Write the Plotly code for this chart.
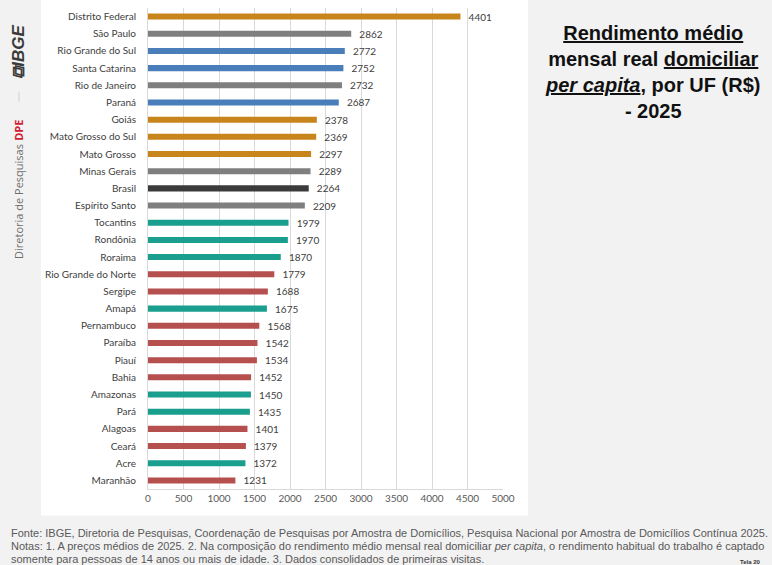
import plotly.graph_objects as go

# ---------------- data ----------------
ufs = ["Distrito Federal", "São Paulo", "Rio Grande do Sul", "Santa Catarina", "Rio de Janeiro",
       "Paraná", "Goiás", "Mato Grosso do Sul", "Mato Grosso", "Minas Gerais", "Brasil",
       "Espírito Santo", "Tocantins", "Rondônia", "Roraima", "Rio Grande do Norte", "Sergipe",
       "Amapá", "Pernambuco", "Paraíba", "Piauí", "Bahia", "Amazonas", "Pará", "Alagoas",
       "Ceará", "Acre", "Maranhão"]
values = [4401, 2862, 2772, 2752, 2732, 2687, 2378, 2369, 2297, 2289, 2264, 2209, 1979, 1970,
          1870, 1779, 1688, 1675, 1568, 1542, 1534, 1452, 1450, 1435, 1401, 1379, 1372, 1231]
regions = ["CO", "SE", "S", "S", "SE", "S", "CO", "CO", "CO", "SE", "BR", "SE", "N", "N",
           "N", "NE", "NE", "N", "NE", "NE", "NE", "NE", "N", "N", "NE", "NE", "N", "NE"]
x_ticks = [0, 500, 1000, 1500, 2000, 2500, 3000, 3500, 4000, 4500, 5000]

footer_lines = [
    "Fonte: IBGE, Diretoria de Pesquisas, Coordenação de Pesquisas por Amostra de Domicílios, "
    "Pesquisa Nacional por Amostra de Domicílios Contínua 2025.",
    "Notas: 1. A preços médios de 2025. 2. Na composição do rendimento médio mensal real domiciliar "
    "<i>per capita</i>, o rendimento habitual do trabalho é captado",
    "somente para pessoas de 14 anos ou mais de idade. 3. Dados consolidados de primeiras visitas.",
]

region_colors = {"CO": "#C8851C", "SE": "#7F7F7F", "S": "#4A7EBB", "BR": "#3B3B3B",
                 "N": "#1A9E8E", "NE": "#B5504F"}

# ---------------- layout geometry (pixels) ----------------
W, H = 772, 565
PL, PR, PT, PB = 148, 503, 8.4, 488.6


def px(xp):
    return (xp - PL) / (PR - PL)


def py(yp):
    return (PB - yp) / (PB - PT)


fig = go.Figure()
fig.add_trace(go.Bar(
    x=values, y=ufs, orientation="h",
    marker=dict(color=[region_colors[r] for r in regions], line=dict(width=0)),
    text=["\u00a0\u00a0" + str(v) for v in values], textposition="outside", constraintext="none",
    textfont=dict(family="Lato, Open Sans, sans-serif", size=10, color="#404040"),
    cliponaxis=False, hoverinfo="x+y",
))

fig.update_layout(
    width=W, height=H,
    margin=dict(l=PL, r=W - PR, t=PT, b=H - PB, pad=0),
    paper_bgcolor="#F2F2F2", plot_bgcolor="#FFFFFF",
    bargap=0.65, showlegend=False,
    xaxis=dict(range=[0, 5000], tickvals=x_ticks, showgrid=True, gridcolor="#D9D9D9",
               gridwidth=1, zeroline=False, showline=True, linecolor="#D9D9D9",
               tickfont=dict(family="Lato, Open Sans, sans-serif", size=10, color="#595959"),
               ticks="", fixedrange=True),
    yaxis=dict(categoryorder="array", categoryarray=ufs, autorange="reversed",
               showgrid=False, zeroline=False, showline=True, linecolor="#D9D9D9",
               ticks="", ticklabelstandoff=9,
               tickfont=dict(family="Lato, Open Sans, sans-serif", size=10, color="#404040"),
               fixedrange=True),
    font=dict(family="Liberation Sans, Arial, sans-serif"),
)

# white chart panel
fig.add_shape(type="rect", xref="paper", yref="paper", layer="below",
              x0=px(41), x1=px(528), y0=py(515), y1=py(0),
              fillcolor="#FFFFFF", line=dict(width=0))

# title
fig.add_annotation(
    xref="paper", yref="paper", x=px(652), y=py(20), xanchor="center", yanchor="top",
    text="<b><u>Rendimento médio</u><br>mensal real <u>domiciliar</u><br>"
         "<i><u>per capita</u></i>, por UF (R$)<br>- 2025</b>",
    showarrow=False, align="center",
    font=dict(family="Liberation Sans, Arial, sans-serif", size=20, color="#111111"),
)

# footer (one annotation per line)
for line, yc in zip(footer_lines, [533, 546, 558]):
    fig.add_annotation(
        xref="paper", yref="paper", x=px(9), y=py(yc), xanchor="left", yanchor="middle",
        text=line, showarrow=False, align="left",
        font=dict(family="Liberation Sans, Arial, sans-serif", size=11, color="#595959"),
    )

fig.add_annotation(
    xref="paper", yref="paper", x=px(738), y=py(556), xanchor="left", yanchor="top",
    text="<b>Tela 20</b>", showarrow=False,
    font=dict(family="Liberation Sans, Arial, sans-serif", size=6, color="#333333"),
)

# left strip: logo and department
fig.add_annotation(
    xref="paper", yref="paper", x=px(19), y=py(52), xanchor="center", yanchor="middle",
    text="<b><i>⧉IBGE</i></b>", textangle=-90, showarrow=False,
    font=dict(family="Liberation Sans, Arial, sans-serif", size=17, color="#3A3A3A"),
)
fig.add_shape(type="line", xref="paper", yref="paper",
              x0=px(19), x1=px(19), y0=py(92), y1=py(102),
              line=dict(color="#D0D0D0", width=1))
fig.add_annotation(
    xref="paper", yref="paper", x=px(19), y=py(131), xanchor="center", yanchor="middle",
    text="<b>DPE</b>", textangle=-90, showarrow=False,
    font=dict(family="Open Sans, sans-serif", size=11, color="#D0202E"),
)
fig.add_annotation(
    xref="paper", yref="paper", x=px(19), y=py(202), xanchor="center", yanchor="middle",
    text="Diretoria de Pesquisas", textangle=-90, showarrow=False,
    font=dict(family="Open Sans, sans-serif", size=11, color="#6E6E6E"),
)

fig.write_html("out.html")
